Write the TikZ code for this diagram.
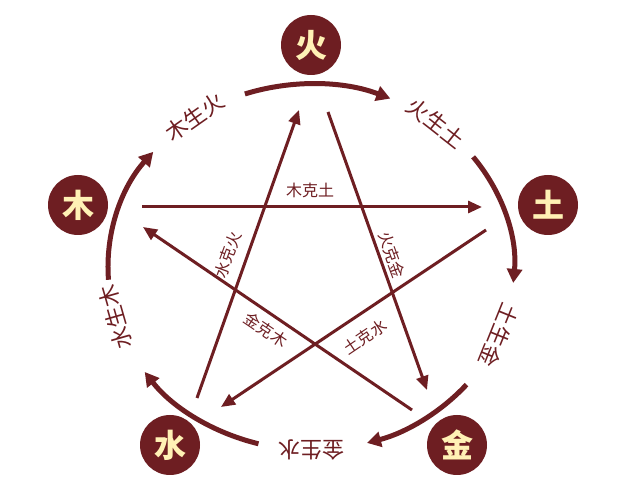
\documentclass[tikz,border=0pt]{standalone}
\usepackage{fontspec}
\setmainfont{Noto Sans CJK SC}
\usetikzlibrary{arrows.meta}
\definecolor{dred}{HTML}{6E1E22}
\definecolor{cream}{HTML}{FFF1B5}
\begin{document}
\begin{tikzpicture}[x=1pt,y=1pt,
  elem/.style={circle,fill=dred,minimum size=60pt,inner sep=0pt,text=cream,font=\fontsize{32}{32}\selectfont\bfseries},
  cyc/.style={draw=dred,line width=5pt,-{Triangle[length=14pt,width=15pt]}},
  ke/.style={draw=dred,line width=3pt,-{Triangle[length=14pt,width=12pt]}},
  cyclab/.style={text=dred,font=\fontsize{22}{22}\selectfont,inner sep=1pt},
  kelab/.style={text=dred,font=\fontsize{16}{16}\selectfont,inner sep=1pt}]
\useasboundingbox (0,0) rectangle (630,490);
\fill[white] (0,0) rectangle (630,490);
\coordinate (c) at (311,223);
\node[elem] (huo) at (311,445) {火};
\node[elem] (tu) at (548,285) {土};
\node[elem] (jin) at (457,45) {金};
\node[elem] (shui) at (170,45) {水};
\node[elem] (mu) at (78,285) {木};
% generating cycle
\foreach \a/\b in {184/141,109/67,37/-5,-40/-74,-105/-145}{
  \draw[cyc] (c) ++(\a:203 and 183) arc[start angle=\a,end angle=\b,x radius=203,y radius=183];
}
\foreach \t/\txt in {125/木生火,52/火生土,-22/土生金,-90/金生水,-164/水生木}{
  \path (c) ++(\t:203 and 183) node[cyclab,rotate=\t-90] {\txt};
}
% controlling star
\coordinate (a1) at (142,283); \coordinate (b1) at (482,283);
\coordinate (a2) at (328,378); \coordinate (b2) at (427,100);
\coordinate (a3) at (486,260); \coordinate (b3) at (221,83);
\coordinate (a4) at (412,80);  \coordinate (b4) at (143,263);
\coordinate (a5) at (197,92);  \coordinate (b5) at (299,380);
\draw[ke] (a1) -- (b1);
\draw[ke] (a2) -- (b2);
\draw[ke] (a3) -- (b3);
\draw[ke] (a4) -- (b4);
\draw[ke] (a5) -- (b5);
\node[kelab] (l1) at (310,300) {木克土};
\node[kelab,rotate=-70] (l2) at (392,235) {火克金};
\node[kelab,rotate=34] (l3) at (365,153) {土克水};
\node[kelab,rotate=-34] (l4) at (266,160) {金克木};
\node[kelab,rotate=70] (l5) at (228,235) {水克火};
\end{tikzpicture}
\end{document}
